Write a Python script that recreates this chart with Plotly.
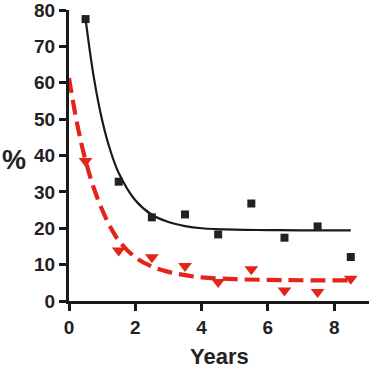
import plotly.graph_objects as go

years = [0.5, 1.5, 2.5, 3.5, 4.5, 5.5, 6.5, 7.5, 8.5]
black_pts = [77.5, 32.8, 23.0, 23.8, 18.3, 26.8, 17.4, 20.5, 12.1]
red_pts = [38.5, 13.9, 12.0, 9.6, 5.2, 8.7, 2.9, 2.5, 6.1]

# Fitted curves
black_fit_x = [0.5, 0.75, 1.0, 1.25, 1.5, 2.0, 2.5, 3.0, 3.5, 4.0, 5.0, 6.0, 7.0, 8.5]
black_fit_y = [77.5, 61.4, 49.7, 41.3, 35.2, 27.7, 23.7, 21.7, 20.6, 20.0, 19.6, 19.5, 19.4, 19.4]
red_fit_x = [0.0, 0.25, 0.5, 0.75, 1.0, 1.25, 1.5, 2.0, 2.5, 3.0, 3.5, 4.0, 5.0, 6.0, 7.0, 8.5]
red_fit_y = [61.3, 48.5, 38.6, 31.0, 25.1, 20.3, 16.6, 12.0, 9.5, 8.0, 7.1, 6.5, 6.0, 5.8, 5.7, 5.7]

x_ticks = [0, 2, 4, 6, 8]
y_ticks = [0, 10, 20, 30, 40, 50, 60, 70, 80]

RED = "#e3241b"
INK = "#1a1a1a"
FAMILY = "Liberation Sans, Arial, sans-serif"

W, H = 369, 368
ML, MT, MB = 69, 10, 67
PH = H - MT - MB
PW = W - ML

fig = go.Figure()
fig.add_trace(go.Scatter(x=black_fit_x, y=black_fit_y, mode="lines",
                         line=dict(color=INK, width=2.2, shape="spline"), cliponaxis=False))
fig.add_trace(go.Scatter(x=red_fit_x, y=red_fit_y, mode="lines",
                         line=dict(color=RED, width=4.2, dash="15px,7px", shape="spline"), cliponaxis=False))
fig.add_trace(go.Scatter(x=years, y=black_pts, mode="markers",
                         marker=dict(symbol="square", size=8, color="#222222"), cliponaxis=False))
fig.add_trace(go.Scatter(x=years, y=red_pts, mode="markers",
                         marker=dict(symbol="triangle-down", size=12, color=RED), cliponaxis=False))

axis_common = dict(showgrid=False, zeroline=False, showline=True, linecolor=INK, linewidth=3,
                   ticks="outside", ticklen=7, tickwidth=3, tickcolor=INK, automargin=False,
                   ticklabeloverflow="allow",
                   tickfont=dict(family=FAMILY, size=19, color="#222222"))

fig.update_layout(
    width=W, height=H, showlegend=False,
    margin=dict(l=ML, r=0, t=MT, b=MB, pad=0),
    plot_bgcolor="white", paper_bgcolor="white",
    font=dict(family=FAMILY, size=19, color="#222222"),
    xaxis=dict(range=[0, 9.05], tickvals=x_ticks,
               ticktext=["<b>%d</b>" % v for v in x_ticks], **axis_common),
    yaxis=dict(range=[0, 80], tickvals=y_ticks,
               ticktext=["<b>%d</b>" % v for v in y_ticks], **axis_common),
    annotations=[
        dict(text="<b>%</b>", x=(14 - ML) / PW, y=1 - (160 - MT) / PH,
             xref="paper", yref="paper", xanchor="center", yanchor="middle", showarrow=False,
             font=dict(family=FAMILY, size=27, color="#222222")),
        dict(text="<b>Years</b>", x=0.5, y=-(356 - MT - PH) / PH,
             xref="paper", yref="paper", xanchor="center", yanchor="middle",
             showarrow=False, font=dict(family=FAMILY, size=22, color="#222222")),
    ],
)
fig.write_html("out.html", config={"displayModeBar": False},
               post_script="document.body.style.margin='0';document.body.style.overflow='hidden';")
